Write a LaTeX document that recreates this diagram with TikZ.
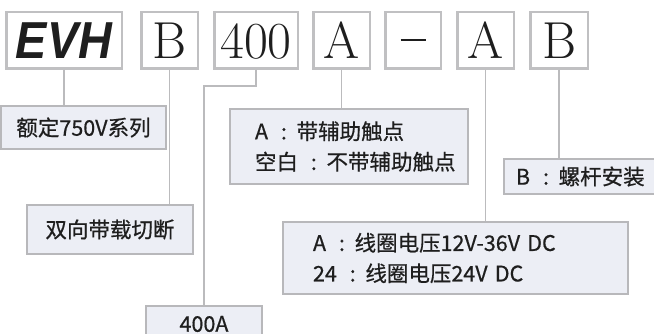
\documentclass[tikz,border=0pt]{standalone}
\usepackage{fontspec}
\newfontfamily\cjk[FakeBold=0.6]{Noto Sans CJK SC}
\newfontfamily\evhfont[FakeStretch=0.9]{Liberation Sans}
\newcommand\cln{\hspace{0.6em}:\hspace{0.45em}}
\definecolor{boxfill}{HTML}{ECEEF5}
\definecolor{boxline}{HTML}{B8B8BB}
\definecolor{topline}{HTML}{C0C0C2}
\definecolor{wire}{HTML}{BBBBBD}
\definecolor{ink}{HTML}{1E1E1E}
\tikzset{
  topbox/.style={draw=topline, line width=2.5pt, fill=white, minimum height=56.5pt,
    inner sep=0pt, text height=37pt, text depth=0pt, font=\fontsize{52}{52}\selectfont, text=ink},
  infobox/.style={draw=boxline, line width=2pt, fill=boxfill, inner sep=0pt,
    font=\cjk\fontsize{21.5}{30.5}\selectfont, text=ink},
  wireline/.style={draw=wire, line width=1.3pt}
}
\begin{document}
\begin{tikzpicture}[x=1pt,y=-1pt]
\useasboundingbox (0,0) rectangle (654,334);
% top code boxes
\node[topbox, minimum width=115.5pt] (evh) at (64,40.5) {\evhfont\bfseries\itshape EVH};
\node[topbox, minimum width=56.5pt] (b1) at (169.5,40.5) {B};
\node[topbox, minimum width=83.5pt] (n400) at (256,40.5) {400};
\node[topbox, minimum width=56.5pt] (a1) at (341.5,40.5) {A};
\node[topbox, minimum width=55.5pt] (dash) at (413,40.5) {\rule[17.5pt]{25pt}{2.5pt}};
\node[topbox, minimum width=56.5pt] (a2) at (485.5,40.5) {A};
\node[topbox, minimum width=57.5pt] (b2) at (559,40.5) {B};
% info boxes
\node[infobox, minimum width=165pt, minimum height=43pt] (s1) at (83.5,127.5) {额定750V系列};
\node[infobox, minimum width=166pt, minimum height=49pt] (s2) at (110,229.5) {双向带载切断};
\node[infobox, minimum width=116pt, minimum height=36pt] (s400) at (204,324) {400A};
\node[infobox, minimum width=238pt, minimum height=75pt, text width=212pt, inner xsep=13pt, align=left] (s3) at (349,146.5) {\mbox{\hspace*{12pt}A\cln 带辅助触点}\\\mbox{\hspace*{12pt}空白\cln 不带辅助触点}};
\node[infobox, minimum width=158pt, minimum height=35pt, text width=134pt, inner xsep=12pt, align=left] (s4) at (583,176.5) {\mbox{B\cln 螺杆安装}};
\node[infobox, minimum width=345pt, minimum height=72pt, text width=285pt, inner xsep=30pt, align=left] (s5) at (455.5,258) {\mbox{A\cln 线圈电压12V-36V DC}\\\mbox{24\cln 线圈电压24V DC}};
% connectors
\draw[wireline] (evh.south) -- (evh.south |- s1.north);
\draw[wireline] (b1.south) -- (b1.south |- s2.north);
\draw[wireline] (n400.south) -- ++(0,16) -| (s400.north);
\draw[wireline] (a1.south) -- (a1.south |- s3.north);
\draw[wireline] (a2.south) -- (a2.south |- s5.north);
\draw[wireline] (b2.south) -- (b2.south |- s4.north);
\end{tikzpicture}
\end{document}
